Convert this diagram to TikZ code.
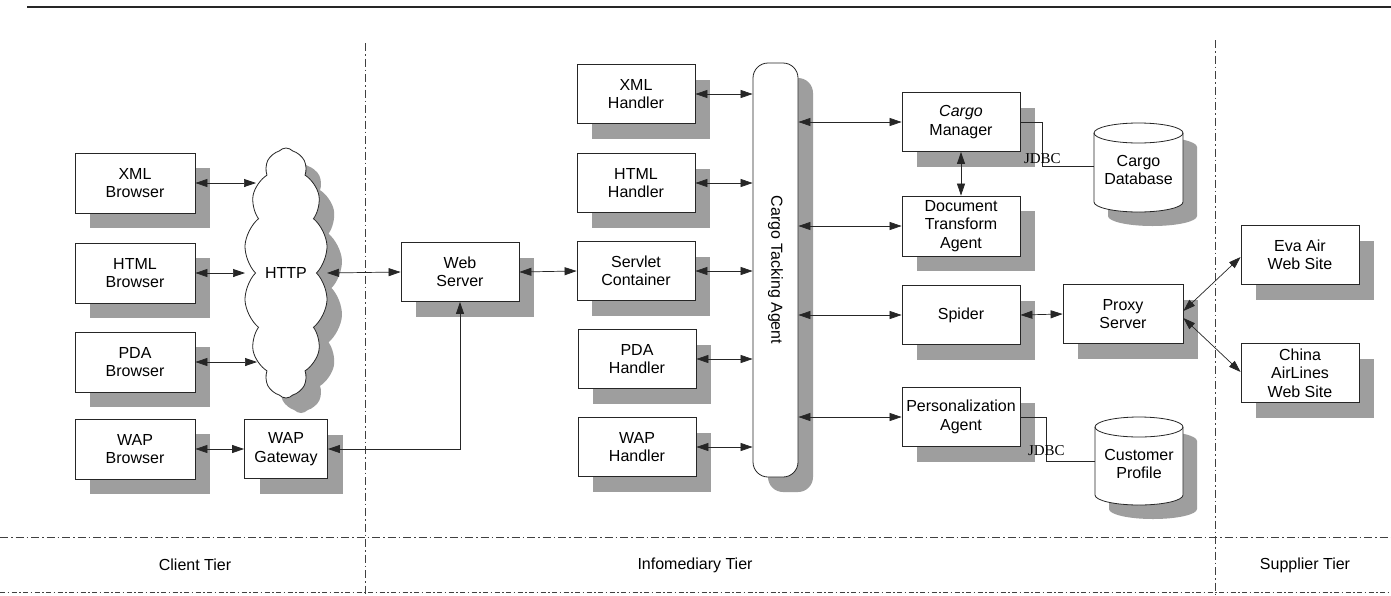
\documentclass[tikz,border=0pt]{standalone}
\usepackage{fontspec}
\setmainfont{Liberation Sans}
\newfontfamily\jdbcfont{Liberation Serif}
\usetikzlibrary{arrows.meta,shadows,shapes.symbols,calc}
\begin{document}
\begin{tikzpicture}[x=1pt,y=-1pt,
  shadowc/.style={fill=black!38},
  box/.style={draw=black!85, line width=0.8pt, fill=white, minimum width=118pt,
    minimum height=59pt, align=center, inner sep=1pt,
    font=\fontsize{16}{18.5}\selectfont,
    drop shadow={shadow xshift=15pt, shadow yshift=-15pt, fill=black!38, opacity=1}},
  cylnode/.style={minimum width=89pt, minimum height=89pt, align=center, inner sep=1pt,
    font=\fontsize{16}{18.5}\selectfont},
  conn/.style={line width=0.7pt, draw=black!85,
    {Triangle[length=12pt,width=8pt]}-{Triangle[length=12pt,width=8pt]}},
  plainline/.style={line width=0.7pt, draw=black!85},
  jdbc/.style={font=\jdbcfont\fontsize{15}{15}\selectfont, inner sep=0pt},
  tierline/.style={draw=black!75, line width=0.8pt, dash pattern=on 8pt off 3pt on 1.5pt off 3pt},
  tierline2/.style={draw=black!75, line width=0.8pt, dash pattern=on 5pt off 2.5pt on 1.5pt off 2.5pt},
  tierlabel/.style={font=\fontsize{16}{18}\selectfont}
]
\useasboundingbox[fill=white] (0,0) rectangle (1391,595);

% frame lines
\draw[line width=1.6pt, black!85] (27,7) -- (1391,7);
\draw[tierline] (365,43) -- (365,595);
\draw[tierline] (1215,40) -- (1215,595);
\draw[tierline] (0,537) -- (1391,537);
\draw[tierline2] (0,592) -- (1391,592);

% tier labels
\node[tierlabel] (clienttier) at (195,565) {Client Tier};
\node[tierlabel] (infotier) at (695,565) {Infomediary Tier};
\node[tierlabel] (suptier) at (1305,565) {Supplier Tier};

% client tier
\node[box, minimum width=120pt, minimum height=60pt] (xmlb) at (135,183) {XML\\Browser};
\node[box, minimum width=120pt, minimum height=60pt] (htmlb) at (135,273) {HTML\\Browser};
\node[box, minimum width=120pt, minimum height=60pt] (pdab) at (135,362) {PDA\\Browser};
\node[box, minimum width=120pt, minimum height=60pt] (wapb) at (135,449) {WAP\\Browser};

\node[cloud, cloud ignores aspect, cloud puffs=14, cloud puff arc=95, draw=black!85, line width=0.8pt,
  fill=white, minimum width=84pt, minimum height=250pt, inner sep=0pt,
  font=\fontsize{16}{18.5}\selectfont,
  drop shadow={shadow xshift=15pt, shadow yshift=-15pt, fill=black!38, opacity=1}]
  (http) at (286,273) {HTTP};

\node[box, minimum width=83pt] (wapg) at (286,449) {WAP\\Gateway};

% infomediary tier
\node[box] (web) at (460,272) {Web\\Server};
\node[box] (servlet) at (636,271) {Servlet\\Container};
\node[box] (xmlh) at (636,94) {XML\\Handler};
\node[box] (htmlh) at (636,183) {HTML\\Handler};
\node[box] (pdah) at (637,359) {PDA\\Handler};
\node[box] (waph) at (637,447) {WAP\\Handler};

\node[box, minimum width=45pt, minimum height=414pt, rounded corners=15pt] (agent) at (775.5,270)
  {\rotatebox{-90}{Cargo Tacking Agent}};

\node[box] (cm) at (961,122) {\textit{Cargo}\\Manager};
\node[box, minimum height=60pt] (dta) at (961,226) {Document\\Transform\\Agent};
\node[box] (spider) at (961,315) {Spider};
\node[box] (pers) at (961,417) {Personalization\\Agent};
\node[box, minimum width=120pt] (proxy) at (1123,314) {Proxy\\Server};

% Cargo Database cylinder
\fill[shadowc] (1108,147) -- (1108,216) arc[start angle=180,end angle=360,x radius=44.5pt,y radius=10pt]
  -- (1197,147) arc[start angle=0,end angle=180,x radius=44.5pt,y radius=10pt] -- cycle;
\filldraw[fill=white, draw=black!85, line width=0.8pt] (1094,133) -- (1094,202)
  arc[start angle=180,end angle=360,x radius=44.5pt,y radius=10pt]
  -- (1183,133) arc[start angle=0,end angle=180,x radius=44.5pt,y radius=10pt] -- cycle;
\draw[black!85, line width=0.8pt] (1094,133) arc[start angle=180,end angle=360,x radius=44.5pt,y radius=10pt];
\node[cylnode] (cdb) at (1138.5,170) {Cargo\\Database};

% Customer Profile cylinder
\fill[shadowc] (1109,441) -- (1109,509) arc[start angle=180,end angle=360,x radius=44pt,y radius=10pt]
  -- (1197,441) arc[start angle=0,end angle=180,x radius=44pt,y radius=10pt] -- cycle;
\filldraw[fill=white, draw=black!85, line width=0.8pt] (1095,427) -- (1095,495)
  arc[start angle=180,end angle=360,x radius=44pt,y radius=10pt]
  -- (1183,427) arc[start angle=0,end angle=180,x radius=44pt,y radius=10pt] -- cycle;
\draw[black!85, line width=0.8pt] (1095,427) arc[start angle=180,end angle=360,x radius=44pt,y radius=10pt];
\node[cylnode, minimum width=88pt] (cprof) at (1139,464) {Customer\\Profile};

% supplier tier
\node[box] (eva) at (1300,255) {Eva Air\\Web Site};
\node[box] (china) at (1300,373) {China\\AirLines\\Web Site};

% connectors: client tier
\draw[conn] (xmlb.east) -- ($(http.center)+(-30,-90)$);
\draw[conn] (htmlb.east) -- ($(http.center)+(-41,0)$);
\draw[conn] (pdab.east) -- ($(http.center)+(-29,89)$);
\draw[conn] (wapb.east) -- (wapg.west);
\draw[conn] ($(http.center)+(41,0)$) -- (web.west);
\draw[conn] (wapg.east) -| (web.south);

% infomediary
\draw[conn] (web.east) -- (servlet.west);
\draw[conn] (xmlh.east) -- (xmlh.east -| agent.west);
\draw[conn] (htmlh.east) -- (htmlh.east -| agent.west);
\draw[conn] (servlet.east) -- (servlet.east -| agent.west);
\draw[conn] (pdah.east) -- (pdah.east -| agent.west);
\draw[conn] (waph.east) -- (waph.east -| agent.west);

\draw[conn] (agent.east |- cm.west) -- (cm.west);
\draw[conn] (agent.east |- dta.west) -- (dta.west);
\draw[conn] (agent.east |- spider.west) -- (spider.west);
\draw[conn] (agent.east |- pers.west) -- (pers.west);
\draw[conn] (cm.south) -- (dta.north);

\draw[plainline] (cm.east) -- ++(22,0) coordinate (j1) |- (cdb.west |- 0,166);
\node[jdbc] (jdbc1) at ($(j1 |- 0,166)+(0,-7)$) {JDBC};
\draw[plainline] (pers.east) -- ++(26,0) coordinate (j2) |- (cprof.west |- 0,461);
\node[jdbc] (jdbc2) at ($(j2 |- 0,461)+(0,-10)$) {JDBC};

\draw[conn] (spider.east) -- (proxy.west);
\draw[conn] ($(proxy.east)+(0,-3)$) -- ($(eva.west)+(0,2)$);
\draw[conn] ($(proxy.east)+(0,4)$) -- ($(china.west)+(0,-1)$);
\end{tikzpicture}
\end{document}
